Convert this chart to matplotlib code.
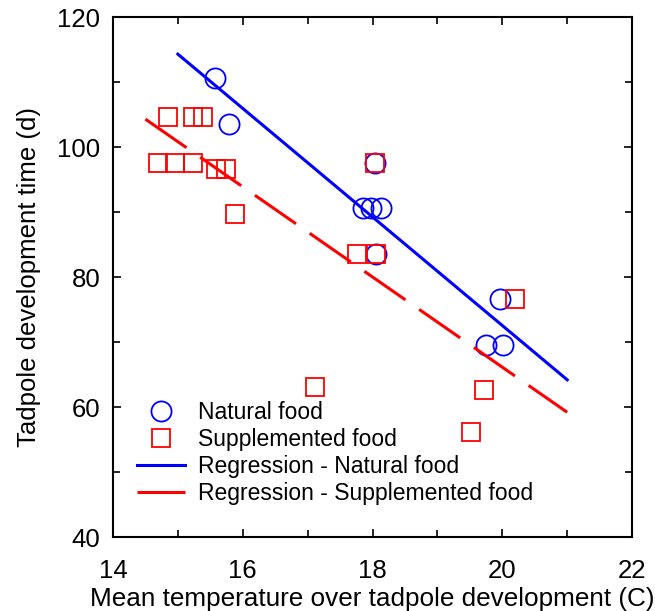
import matplotlib
matplotlib.use("Agg")
import matplotlib.pyplot as plt
from matplotlib.ticker import MultipleLocator

plt.rcParams['font.family'] = ['Liberation Sans', 'DejaVu Sans']
plt.rcParams['lines.scale_dashes'] = False

# Natural food (circles)
natural_x = [15.57, 15.79, 18.04, 17.85, 17.98, 18.13, 18.05, 19.96, 19.75, 20.01]
natural_y = [110.6, 103.5, 97.5, 90.6, 90.6, 90.6, 83.6, 76.6, 69.6, 69.6]

# Supplemented food (squares)
supp_x = [14.85, 15.23, 15.39, 14.69, 14.96, 15.23, 15.59, 15.74, 15.88,
          18.04, 17.76, 18.05, 20.19, 19.72, 19.52, 17.11]
supp_y = [104.6, 104.6, 104.6, 97.5, 97.5, 97.5, 96.6, 96.6, 89.7,
          97.5, 83.6, 83.6, 76.6, 62.6, 56.2, 63.1]

# Regression lines (endpoints)
reg_nat_x = [15.0, 21.0]
reg_nat_y = [114.3, 64.2]
reg_sup_x = [14.5, 21.0]
reg_sup_y = [104.3, 59.2]

fig = plt.figure(figsize=(6.55, 6.11), dpi=100)
ax = fig.add_axes([0.1725, 0.121, 0.7925, 0.851])

ax.plot(natural_x, natural_y, linestyle='none', marker='o', markersize=14.5,
        markerfacecolor='none', markeredgecolor='#0000ff', markeredgewidth=1.3,
        label='Natural food')
ax.plot(supp_x, supp_y, linestyle='none', marker='s', markersize=13.5,
        markerfacecolor='none', markeredgecolor='#ff0000', markeredgewidth=1.3,
        label='Supplemented food')
ax.plot(reg_nat_x, reg_nat_y, color='#0000ff', linewidth=2.2,
        label='Regression - Natural food')
ax.plot(reg_sup_x, reg_sup_y, color='#ff0000', linewidth=2.2,
        linestyle=(0, (36, 12)), label='Regression - Supplemented food')

ax.set_xlim(14, 22)
ax.set_ylim(40, 120)
ax.xaxis.set_major_locator(MultipleLocator(2))
ax.xaxis.set_minor_locator(MultipleLocator(1))
ax.yaxis.set_major_locator(MultipleLocator(20))
ax.yaxis.set_minor_locator(MultipleLocator(10))
ax.tick_params(which='both', direction='in', top=True, right=True,
               width=1.2, labelsize=18.5)
ax.tick_params(axis='x', which='both', pad=16)
ax.tick_params(axis='y', which='both', pad=9)
ax.tick_params(which='major', length=6)
ax.tick_params(which='minor', length=5)
for s in ax.spines.values():
    s.set_linewidth(1.5)

ax.set_xlabel('Mean temperature over tadpole development (C)', fontsize=18.8, labelpad=3)
ax.set_ylabel('Tadpole development time (d)', fontsize=18.5, labelpad=12)

ax.legend(loc='upper left', bbox_to_anchor=(0.046, 0.262), frameon=False,
          fontsize=16.5, borderpad=0, borderaxespad=0, labelspacing=0.18,
          handlelength=2.1, handletextpad=0.55, numpoints=1)

fig.savefig('out.png', dpi=100)
